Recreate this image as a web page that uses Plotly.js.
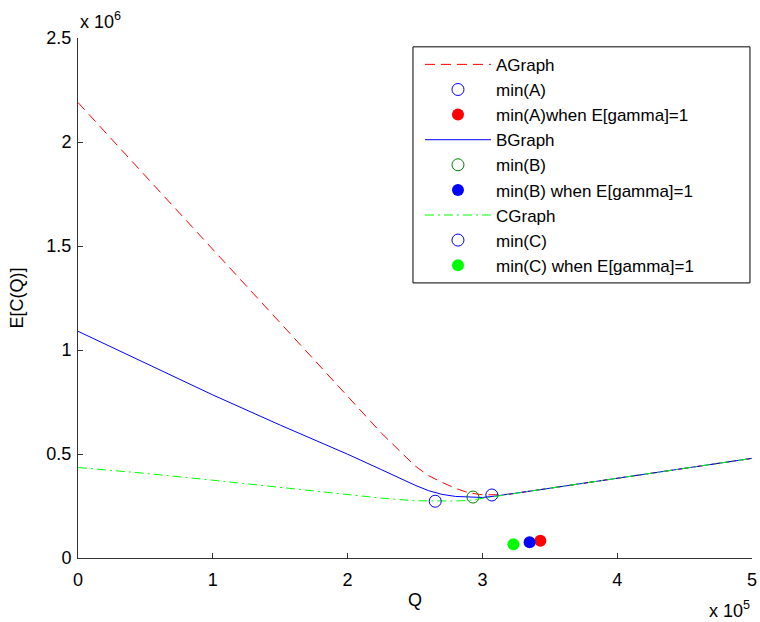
<!DOCTYPE html>
<html>
<head>
<meta charset="utf-8">
<script src="https://cdn.plot.ly/plotly-3.0.1.min.js"></script>
<style>html,body{margin:0;padding:0;background:#fff;}#chart{width:760px;height:622px;}</style>
</head>
<body>
<div id="chart"></div>
<script>
// Q grid (units of Q)
const qGrid = [0, 50000, 100000, 150000, 200000, 225000, 250000, 260000, 270000, 280000, 290000, 300000, 310000, 320000, 350000, 400000, 450000, 500000];
// E[C(Q)] for each graph
const costA = [2190000, 1837000, 1484000, 1131000, 778000, 601000, 443000, 396000, 364000, 335000, 313000, 304000, 304000, 306700, 335400, 383300, 431200, 479000];
const costB = [1090000, 938000, 784000, 639000, 499000, 425000, 350000, 324000, 306000, 296000, 292000, 291000, 298000, 306700, 335400, 383300, 431200, 479000];
const costC = [435000, 407000, 374000, 339000, 304000, 288000, 275000, 274000, 273000, 274000, 277000, 287000, 297000, 306700, 335400, 383300, 431200, 479000];

// minima
const minAQ = [307000], minAVal = [303000];
const minBQ = [293000], minBVal = [293000];
const minCQ = [265000], minCVal = [273000];
// minima when E[gamma]=1
const minA1Q = [343000], minA1Val = [83000];
const minB1Q = [335000], minB1Val = [75500];
const minC1Q = [323000], minC1Val = [66000];

// ticks
const xTickVals = [0, 100000, 200000, 300000, 400000, 500000];
const xTickText = ['0', '1', '2', '3', '4', '5'];
const yTickVals = [0, 500000, 1000000, 1500000, 2000000, 2500000];
const yTickText = ['0', '0.5', '1', '1.5', '2', '2.5'];

const FONT = 'Liberation Sans, Arial, Helvetica, sans-serif';
const MS = 12;

const traces = [
  {x: qGrid, y: costA, mode: 'lines', name: 'AGraph', line: {color: '#ff0000', width: 1, dash: '10px,6px'}},
  {x: minAQ, y: minAVal, mode: 'markers', name: 'min(A)', marker: {symbol: 'circle-open', size: MS, color: '#0000ff', line: {width: 1}}},
  {x: minA1Q, y: minA1Val, mode: 'markers', name: 'min(A)when E[gamma]=1', marker: {symbol: 'circle', size: MS, color: '#ff0000'}},
  {x: qGrid, y: costB, mode: 'lines', name: 'BGraph', line: {color: '#0000ff', width: 1}},
  {x: minBQ, y: minBVal, mode: 'markers', name: 'min(B)', marker: {symbol: 'circle-open', size: MS, color: '#008000', line: {width: 1}}},
  {x: minB1Q, y: minB1Val, mode: 'markers', name: 'min(B) when E[gamma]=1', marker: {symbol: 'circle', size: MS, color: '#0000ff'}},
  {x: qGrid, y: costC, mode: 'lines', name: 'CGraph', line: {color: '#00ff00', width: 1, dash: '9px,4px,2px,4px'}},
  {x: minCQ, y: minCVal, mode: 'markers', name: 'min(C)', marker: {symbol: 'circle-open', size: MS, color: '#0000ff', line: {width: 1}}},
  {x: minC1Q, y: minC1Val, mode: 'markers', name: 'min(C) when E[gamma]=1', marker: {symbol: 'circle', size: MS, color: '#00ff00'}}
];

const axisCommon = {
  showline: true, linecolor: '#333333', linewidth: 1,
  ticks: 'inside', ticklen: 5, tickcolor: '#333333', tickwidth: 1,
  showgrid: false, zeroline: false, mirror: false,
  tickfont: {family: FONT, size: 18, color: '#000'},
  automargin: false
};

const layout = {
  width: 760, height: 622,
  margin: {l: 78, r: 8, t: 38, b: 64},
  paper_bgcolor: '#ffffff', plot_bgcolor: '#ffffff',
  font: {family: FONT, size: 17, color: '#000'},
  showlegend: true,
  legend: {
    x: 0.497, y: 0.983, xanchor: 'left', yanchor: 'top',
    bgcolor: 'rgba(0,0,0,0)', borderwidth: 0,
    font: {family: FONT, size: 17, color: '#000'},
    itemwidth: 66, indentation: 7, traceorder: 'normal'
  },
  // legend frame (MATLAB-style wide box)
  shapes: [
    {type: 'rect', xref: 'paper', yref: 'paper', x0: 0.497, x1: 0.997, y0: 0.529, y1: 0.983,
     fillcolor: '#ffffff', line: {color: '#000000', width: 1}, layer: 'above'}
  ],
  xaxis: Object.assign({}, axisCommon, {
    range: [0, 500000], tickmode: 'array', tickvals: xTickVals, ticktext: xTickText,
    ticklabelstandoff: 5,
    title: {text: 'Q', font: {family: FONT, size: 18}, standoff: 4}
  }),
  yaxis: Object.assign({}, axisCommon, {
    range: [0, 2500000], tickmode: 'array', tickvals: yTickVals, ticktext: yTickText,
    ticklabelstandoff: 2,
    title: {text: 'E[C(Q)]', font: {family: FONT, size: 18}, standoff: 18}
  }),
  annotations: [
    {text: 'x 10<sup>6</sup>', xref: 'paper', yref: 'paper', x: 0, y: 1, xanchor: 'left', yanchor: 'bottom',
     yshift: 4, showarrow: false, font: {family: FONT, size: 18, color: '#000'}},
    {text: 'x 10<sup>5</sup>', xref: 'paper', yref: 'paper', x: 1, y: 0, xanchor: 'right', yanchor: 'top',
     yshift: -38, showarrow: false, font: {family: FONT, size: 18, color: '#000'}}
  ]
};

Plotly.newPlot('chart', traces, layout, {displayModeBar: false, staticPlot: true});
</script>
</body>
</html>
